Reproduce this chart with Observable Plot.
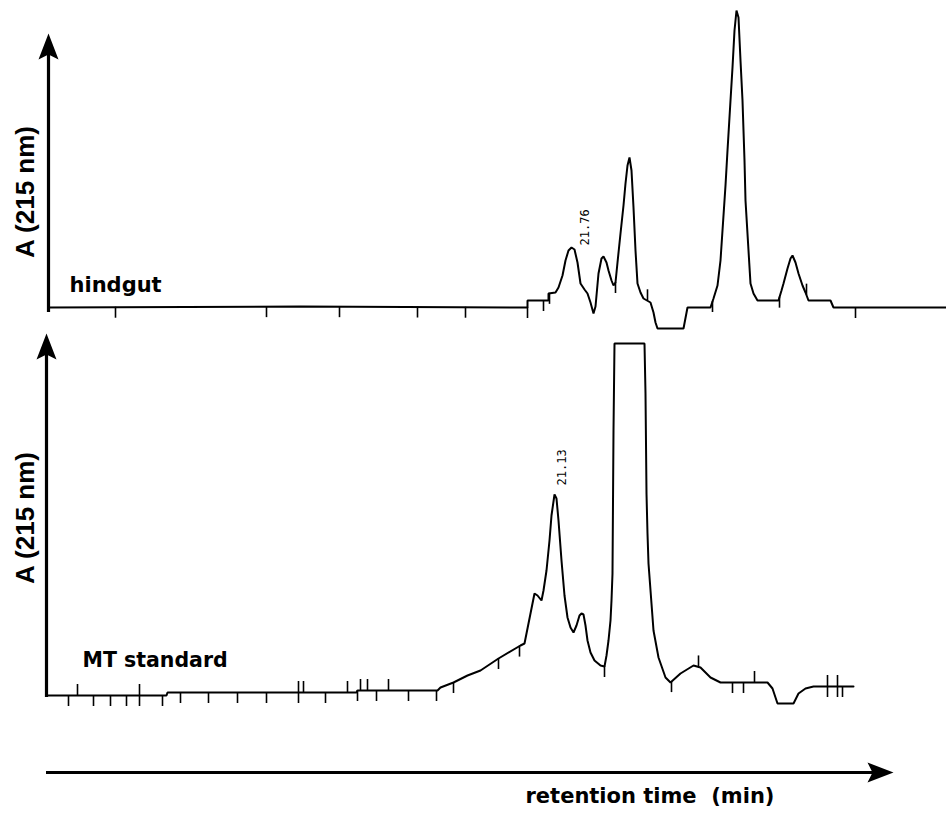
<!DOCTYPE html>
<html>
<head>
<meta charset="utf-8">
<script src="https://cdn.jsdelivr.net/npm/d3@7"></script>
<script src="https://cdn.jsdelivr.net/npm/@observablehq/plot@0.6"></script>
<style>
  body { margin: 0; background: #fff; }
  #chart { position: relative; width: 946px; height: 813px; overflow: hidden; background: #fff; }
  #chart svg { position: absolute; left: 0; }
</style>
</head>
<body>
<div id="chart"></div>
<script>
// ---------- texts ----------
const panelNames = ["hindgut", "MT standard"];
const yAxisLabel = "A (215 nm)";
const xAxisLabel = "retention time\u00a0 (min)";

// ---------- hindgut chromatogram (time in min, absorbance in mAU) ----------
const hindgutTime = [0.88, 10.96, 20.04, 20.04, 20.88, 20.88, 21.16, 21.28, 21.44, 21.56, 21.68, 21.80, 21.92, 22.04, 22.16, 22.32, 22.44, 22.56, 22.68, 22.76, 22.88, 23.00, 23.08, 23.20, 23.28, 23.40, 23.48, 23.56, 23.64, 23.76, 23.88, 23.96, 24.04, 24.12, 24.20, 24.28, 24.36, 24.44, 24.56, 24.68, 24.96, 25.08, 25.16, 25.24, 26.28, 26.44, 27.36, 27.48, 27.64, 27.76, 27.88, 27.96, 28.04, 28.16, 28.24, 28.32, 28.40, 28.48, 28.56, 28.64, 28.72, 28.76, 28.88, 28.96, 29.08, 29.24, 30.08, 30.20, 30.28, 30.44, 30.56, 30.64, 30.76, 30.88, 31.04, 31.16, 31.28, 32.16, 32.28, 36.80];
const hindgutA    = [0, 1, 0, 7, 7, 14, 15, 20, 32, 47, 57, 60, 58, 45, 24, 18, 14, 5, -6, 1, 34, 49, 51, 45, 37, 27, 22, 25, 45, 74, 102, 124, 142, 150, 137, 100, 57, 24, 15, 9, 5, -5, -15, -21, -21, 0, 0, 9, 22, 47, 92, 122, 157, 207, 240, 277, 297, 290, 247, 207, 147, 107, 57, 24, 14, 7, 7, 17, 24, 39, 49, 52, 45, 34, 22, 15, 7, 7, 0, 0];
const hindgutTickTime = [3.56, 9.60, 12.52, 15.64, 17.56, 20.04, 20.68, 20.92, 23.56, 24.84, 27.44, 30.12, 31.20, 33.16];
const hindgutTickDir  = ["down", "down", "down", "down", "down", "down", "down", "down", "down", "up", "down", "down", "up", "down"];
const hindgutPeakTime  = [21.80];
const hindgutPeakLabel = ["21.76"];

// ---------- MT standard chromatogram ----------
const standardTime = [0.80, 5.60, 5.64, 13.20, 13.24, 16.44, 16.56, 17.08, 17.64, 18.16, 18.88, 19.76, 19.92, 20.08, 20.24, 20.32, 20.44, 20.60, 20.68, 20.80, 20.92, 21.00, 21.12, 21.20, 21.28, 21.40, 21.52, 21.64, 21.76, 21.88, 22.00, 22.12, 22.20, 22.28, 22.36, 22.44, 22.56, 22.72, 22.96, 23.12, 23.20, 23.28, 23.36, 23.40, 23.44, 23.48, 23.52, 24.72, 24.76, 24.80, 24.84, 24.88, 25.08, 25.28, 25.56, 25.76, 26.16, 26.68, 26.96, 27.36, 27.76, 29.64, 29.84, 29.96, 30.04, 30.68, 30.88, 31.16, 31.48, 33.08];
const standardA    = [-2, -2, 1, 1, 3, 3, 6, 11, 18, 23, 35, 48, 50, 70, 90, 100, 98, 93, 103, 123, 153, 178, 199, 195, 173, 133, 98, 76, 66, 61, 68, 78, 80, 79, 68, 53, 41, 33, 28, 27, 38, 53, 73, 93, 120, 263, 350, 350, 300, 200, 160, 130, 63, 36, 16, 11, 20, 28, 26, 16, 11, 11, 5, -4, -10, -10, 0, 5, 7, 7];
const standardTickTime = [1.68, 2.04, 2.68, 3.36, 4.00, 4.52, 5.44, 6.16, 7.28, 8.44, 9.60, 10.88, 11.08, 11.96, 12.84, 13.24, 13.36, 13.64, 14.00, 14.48, 15.28, 16.40, 17.08, 18.88, 19.72, 23.12, 25.80, 26.88, 28.24, 28.68, 29.12, 32.04, 32.44, 32.64];
const standardTickDir  = ["down", "up", "down", "down", "down", "both", "down", "down", "down", "down", "down", "both", "up", "down", "up", "down", "up", "up", "down", "up", "down", "down", "down", "down", "down", "down", "down", "up", "down", "down", "up", "both", "both", "down"];
const standardPeakTime  = [21.12];
const standardPeakLabel = ["21.13"];

// ---------- helpers ----------
function series(times, values) { return times.map((t, i) => ({t, a: values[i]})); }
function valueAt(times, values, t) {
  let i = times.findIndex(v => v >= t);
  if (i < 0) return values[values.length - 1];
  if (times[i] === t || i === 0) return values[i];
  const f = (t - times[i - 1]) / (times[i] - times[i - 1]);
  return values[i - 1] + f * (values[i] - values[i - 1]);
}
const TICK = 11;
function ticks(times, values, tickTimes, dirs) {
  return tickTimes.map((t, i) => {
    const a = valueAt(times, values, t);
    const d = dirs[i];
    return {t, y1: d === "up" ? a : a - TICK, y2: d === "down" ? a : a + TICK};
  });
}
function peaks(times, labels) { return times.map((t, i) => ({t, label: labels[i]})); }

const arrowUp = {draw(ctx) { ctx.moveTo(0, 0); ctx.lineTo(10, 26); ctx.lineTo(0, 21); ctx.lineTo(-10, 26); ctx.closePath(); }};
const arrowRight = {draw(ctx) { ctx.moveTo(0, 0); ctx.lineTo(-26, -10); ctx.lineTo(-21, 0); ctx.lineTo(-26, 10); ctx.closePath(); }};

const boldWide = {fontFamily: "DejaVu Sans", fontWeight: "bold", fontSize: 21, fill: "black"};
const yLabelFont = {fontFamily: "Liberation Sans", fontWeight: "bold", fontSize: 26, fill: "black"};
const svgStyle = {background: "transparent", overflow: "visible"};

function panel({times, values, tickTimes, tickDirs, peakTimes, peakLabels, name,
                xDomain, yDomain, height, marginLeft, marginTop, axisTop, axisBottom,
                nameDx, nameDy, nameSize, yLabelDx, yLabelDy, peakDx, peakDy}) {
  return Plot.plot({
    width: 946, height, marginLeft, marginRight: 0, marginTop, marginBottom: 0,
    x: {domain: xDomain, axis: null},
    y: {domain: yDomain, axis: null},
    style: svgStyle,
    marks: [
      Plot.ruleX([xDomain[0]], {y1: axisBottom, y2: axisTop - 15, stroke: "black", strokeWidth: 3.2}),
      Plot.dot([{t: xDomain[0], a: axisTop}], {x: "t", y: "a", symbol: arrowUp, r: 10, fill: "black", stroke: "none"}),
      Plot.ruleX(ticks(times, values, tickTimes, tickDirs), {x: "t", y1: "y1", y2: "y2", stroke: "black", strokeWidth: 1.6}),
      Plot.line(series(times, values), {x: "t", y: "a", stroke: "black", strokeWidth: 2, strokeLinejoin: "miter"}),
      Plot.text(peaks(peakTimes, peakLabels), {x: "t", y: (d) => valueAt(times, values, d.t), text: "label", rotate: -90, textAnchor: "start", dx: peakDx, dy: peakDy, fontFamily: "DejaVu Sans Mono", fontSize: 12, fill: "black"}),
      Plot.text([name], {text: d => d, frameAnchor: "bottom-left", textAnchor: "start", lineAnchor: "bottom", dx: nameDx, dy: nameDy, ...boldWide, fontSize: nameSize}),
      Plot.text([yAxisLabel], {text: d => d, frameAnchor: "left", rotate: -90, textAnchor: "middle", dx: yLabelDx, dy: yLabelDy, ...yLabelFont})
    ]
  });
}

const topPanel = panel({
  times: hindgutTime, values: hindgutA, tickTimes: hindgutTickTime, tickDirs: hindgutTickDir,
  peakTimes: hindgutPeakTime, peakLabels: hindgutPeakLabel, name: panelNames[0],
  xDomain: [0.88, 36.8], yDomain: [-23, 300], height: 330, marginLeft: 48, marginTop: 7,
  axisTop: 274, axisBottom: -5, nameDx: 21, nameDy: -39, nameSize: 21,
  yLabelDx: -23.3, yLabelDy: 23, peakDx: 14, peakDy: -2
});
topPanel.style.top = "0px";

const bottomPanel = panel({
  times: standardTime, values: standardA, tickTimes: standardTickTime, tickDirs: standardTickDir,
  peakTimes: standardPeakTime, peakLabels: standardPeakLabel, name: panelNames[1],
  xDomain: [0.80, 36.8], yDomain: [-27, 373], height: 400, marginLeft: 46, marginTop: 0,
  axisTop: 360, axisBottom: -4, nameDx: 36, nameDy: -54, nameSize: 20.5,
  yLabelDx: -21.3, yLabelDy: -2.5, peakDx: 8, peakDy: -9
});
bottomPanel.style.top = "320px";

const axisTip = 34.68;
const timeAxis = Plot.plot({
  width: 946, height: 73, marginLeft: 46, marginRight: 0, marginTop: 0, marginBottom: 9,
  x: {domain: [0.80, 36.8], axis: null},
  y: {domain: [-1, 1], axis: null},
  style: svgStyle,
  marks: [
    Plot.ruleY([0], {x1: 0.80, x2: axisTip - 0.8, stroke: "black", strokeWidth: 3}),
    Plot.dot([{t: axisTip, a: 0}], {x: "t", y: "a", symbol: arrowRight, r: 10, fill: "black", stroke: "none"}),
    Plot.text([xAxisLabel], {text: d => d, x: () => 19.96, frameAnchor: "bottom", textAnchor: "start", lineAnchor: "bottom", dy: -2, ...boldWide})
  ]
});
timeAxis.style.top = "740px";

const chart = document.getElementById("chart");
chart.appendChild(topPanel);
chart.appendChild(bottomPanel);
chart.appendChild(timeAxis);
</script>
</body>
</html>
